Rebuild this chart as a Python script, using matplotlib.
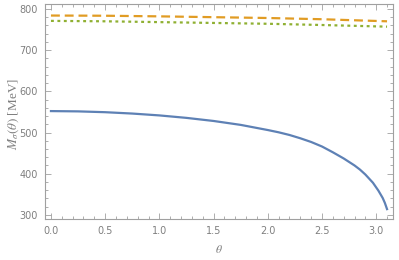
import numpy as np
import matplotlib.pyplot as plt
from matplotlib.ticker import MultipleLocator

# values
theta_blue = [0, 0.25, 0.5, 0.75, 1.0, 1.25, 1.5, 1.75, 2.0, 2.1, 2.2, 2.3, 2.4, 2.5,
              2.6, 2.7, 2.8, 2.85, 2.9, 2.97, 3.02, 3.06, 3.08, 3.1]
m_blue = [552, 551.3, 549.3, 546, 541.5, 535.5, 528, 518.5, 506, 500.5, 494, 486, 477,
          466, 452, 437, 420, 410, 398, 378, 359, 341, 329, 314]

theta_top = [0, 0.5, 1.0, 1.5, 2.0, 2.5, 3.1]
m_orange = [784, 783.5, 782, 780, 778, 775, 770]
m_green = [771, 770, 768, 766, 764, 761, 757]

plt.rcParams['mathtext.fontset'] = 'stix'
gray = '#7f7f7f'

fig = plt.figure(figsize=(3.99, 2.6), dpi=100)
ax = fig.add_axes([45 / 399, 1 - 219 / 260, 348 / 399, 215 / 260])

ax.plot(theta_blue, m_blue, color='#5E81B5', lw=1.6)
ax.plot(theta_top, m_orange, color='#E19C24', lw=1.6, dashes=(4, 2.2))
ax.plot(theta_top, m_green, color='#8FB032', lw=1.6, dashes=(1.3, 1.6))

ax.set_xlim(-0.055, 3.155)
ax.set_ylim(290, 812)

ax.xaxis.set_major_locator(MultipleLocator(0.5))
ax.xaxis.set_minor_locator(MultipleLocator(0.1))
ax.yaxis.set_major_locator(MultipleLocator(100))
ax.yaxis.set_minor_locator(MultipleLocator(20))
ax.xaxis.set_major_formatter(plt.FuncFormatter(lambda v, p: '%.1f' % v))

ax.tick_params(which='both', direction='in', top=True, right=True, color='#a0a0a0',
               labelcolor=gray, labelsize=7, width=0.6)
ax.tick_params(which='major', length=4)
ax.tick_params(which='minor', length=2.2)
ax.tick_params(axis='y', pad=5)
ax.tick_params(axis='x', pad=5)

for s in ax.spines.values():
    s.set_color('#a0a0a0')
    s.set_linewidth(0.8)

ax.set_xlabel(r'$\theta$', color=gray, fontsize=8.5, labelpad=5)
ax.set_ylabel(r'$M_\sigma(\theta)$ [MeV]', color=gray, fontsize=9.5,
              family='Liberation Serif')
ax.yaxis.set_label_coords(-0.07, 0.49)

fig.savefig('out.png', dpi=100)
